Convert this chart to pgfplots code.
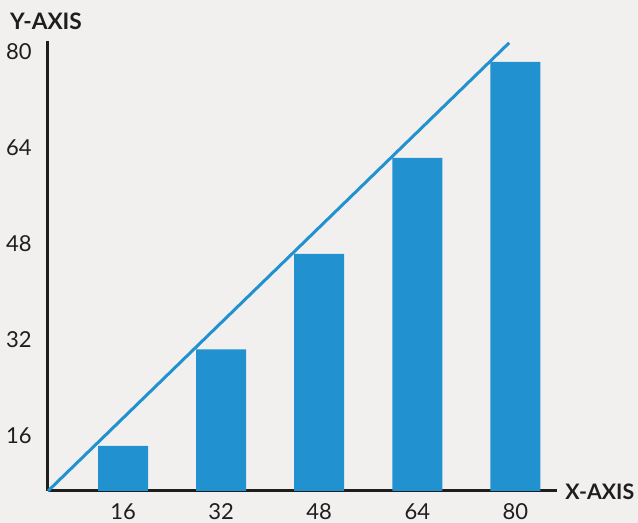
\documentclass[border=0pt]{standalone}
\usepackage{fontspec}
\setmainfont{Lato}
\usepackage{pgfplots}
\pgfplotsset{compat=1.18}
\definecolor{paper}{HTML}{F1F0EE}
\definecolor{barblue}{HTML}{2291D0}
\definecolor{ink}{HTML}{1E1E1E}

\begin{document}
\begin{tikzpicture}
% page: 638x523 px at 0.75pt per px
\useasboundingbox (0,0) rectangle (478.5pt,392.25pt);
\fill[paper] (0,0) rectangle (478.5pt,392.25pt);
\begin{axis}[
    at={(36pt,24pt)}, anchor=south west,
    width=381.75pt, height=337.5pt, scale only axis,
    xmin=3.75, xmax=86.8,
    ymin=6.8, ymax=81.8,
    axis x line=bottom, axis y line=left,
    axis line style={-, line width=2.25pt, ink},
    xtick={16,32,48,64,80},
    ytick={16,32,48,64,80},
    major tick length=0pt,
    /pgf/number format/assume math mode=true,
    tick label style={font=\fontsize{16.5}{18}\selectfont, text=ink, inner sep=0pt},
    yticklabel style={anchor=east, xshift=-12pt},
    xticklabel style={anchor=north, yshift=-9pt},
    clip=false,
]
\addplot[ybar, bar width=37.5pt, fill=barblue, draw=none]
    coordinates {(16,14.3) (32,30.4) (48,46.3) (64,62.3) (80,78.3)};
\addplot[barblue, line width=2.25pt, no marks]
    coordinates {(3.75,6.8) (79,81.5)};
\node[anchor=base west, xshift=-32pt, yshift=8.25pt, text=ink,
      font=\fontsize{17}{19}\selectfont\bfseries] at (rel axis cs:0,1) {Y-AXIS};
\node[anchor=base west, inner sep=0pt, xshift=6pt, yshift=-6.75pt, text=ink,
      font=\fontsize{16}{18}\selectfont\bfseries] at (rel axis cs:1,0) {X-AXIS};
\end{axis}
\end{tikzpicture}
\end{document}
